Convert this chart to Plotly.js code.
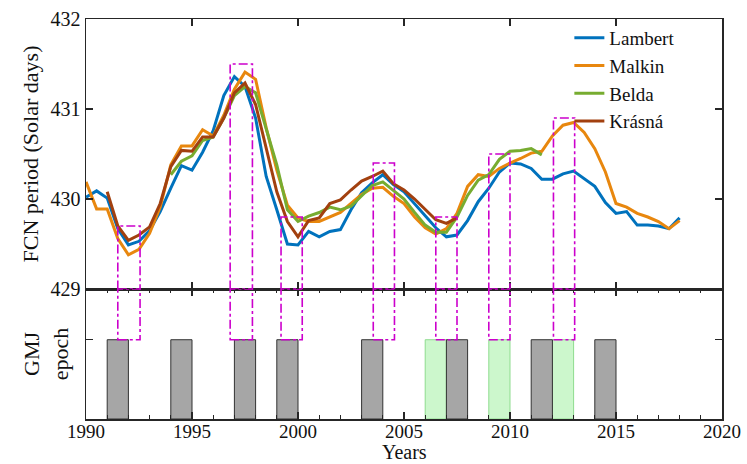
<!DOCTYPE html>
<html>
<head>
<meta charset="utf-8">
<script src="https://cdn.plot.ly/plotly-3.0.1.min.js"></script>
<style>html,body{margin:0;padding:0;background:#fff;}#chart{width:747px;height:464px;}</style>
</head>
<body>
<div id="chart"></div>
<script>
// ---- data ----
const lambertYears = [];
for (let i = 0; i <= 56; i++) lambertYears.push(1990 + i * 0.5);
const lambert = [430.02,430.09,430.01,429.67,429.49,429.53,429.65,429.86,430.12,430.37,
  430.32,430.52,430.76,431.15,431.36,431.25,430.90,430.25,429.88,429.50,
  429.49,429.64,429.58,429.64,429.66,429.88,430.07,430.18,430.27,430.16,
  430.08,429.95,429.82,429.68,429.58,429.60,429.76,429.97,430.12,430.30,
  430.40,430.39,430.34,430.22,430.22,430.28,430.31,430.23,430.14,429.96,
  429.84,429.86,429.71,429.71,429.70,429.67,429.79];
const malkinYears = lambertYears.slice();
const malkin = [430.19,429.89,429.89,429.56,429.38,429.44,429.62,429.91,430.38,430.59,
  430.59,430.77,430.70,430.93,431.22,431.41,431.33,430.79,430.32,429.93,
  429.79,429.75,429.75,429.80,429.85,429.95,430.05,430.12,430.13,430.03,
  429.95,429.80,429.68,429.61,429.67,429.84,430.14,430.27,430.25,430.34,
  430.40,430.45,430.51,430.53,430.70,430.82,430.85,430.74,430.56,430.30,
  429.95,429.91,429.84,429.80,429.75,429.67,429.76];
const beldaYears = [];
for (let i = 0; i <= 35; i++) beldaYears.push(1994 + i * 0.5);
const belda = [430.27,430.42,430.48,430.65,430.69,430.90,431.15,431.25,431.18,430.78,
  430.38,429.88,429.75,429.81,429.85,429.91,429.88,429.92,430.04,430.15,
  430.19,430.10,430.00,429.85,429.71,429.63,429.63,429.80,430.04,430.21,
  430.27,430.44,430.53,430.54,430.56,430.49];
const krasnaYears = [];
for (let i = 0; i <= 33; i++) krasnaYears.push(1991 + i * 0.5);
const krasna = [430.08,429.70,429.54,429.60,429.69,429.95,430.36,430.54,430.53,430.69,
  430.69,430.90,431.18,431.29,431.05,430.55,430.08,429.75,429.58,429.76,
  429.79,429.95,429.99,430.10,430.20,430.25,430.31,430.17,430.10,430.00,
  429.89,429.77,429.73,429.79];

// GMJ epochs (start year, 1-year long)
const grayStarts = [1991, 1994, 1997, 1999, 2003, 2007, 2011, 2014];
const greenStarts = [2006, 2009, 2012];
const epochWidth = 1;
const epochHeight = 1;

// dash-dot boxes: [x0, x1, topValue]
const boxX0 = [1991.5, 1996.8, 1999.2, 2003.55, 2006.5, 2009.0, 2012.05];
const boxX1 = [1992.55, 1997.85, 2000.2, 2004.55, 2007.5, 2010.0, 2013.05];
const boxTop = [429.7, 431.5, 429.8, 430.4, 429.8, 430.5, 430.9];

const xTickVals = [1990, 1995, 2000, 2005, 2010, 2015, 2020];
const yTickVals = [429, 430, 431, 432];

// ---- traces ----
const serif = "'Liberation Serif', 'Times New Roman', serif";
const traces = [];
function line(name, x, y, color) {
  traces.push({type:'scatter', mode:'lines', name:name, x:x, y:y, xaxis:'x', yaxis:'y',
    line:{color:color, width:3}});
}
line('Lambert', lambertYears, lambert, '#0072BD');
line('Malkin', malkinYears, malkin, '#E8870E');
line('Belda', beldaYears, belda, '#77AC30');
line('Krásná', krasnaYears, krasna, '#A2400F');

traces.push({type:'bar', x:greenStarts.map(s => s + epochWidth/2), y:greenStarts.map(() => epochHeight),
  width:epochWidth, xaxis:'x2', yaxis:'y2', showlegend:false, hoverinfo:'skip',
  marker:{color:'#CCF7CC', line:{color:'#8FDC8F', width:1}}});
traces.push({type:'bar', x:grayStarts.map(s => s + epochWidth/2), y:grayStarts.map(() => epochHeight),
  width:epochWidth, xaxis:'x2', yaxis:'y2', showlegend:false, hoverinfo:'skip',
  marker:{color:'#A6A6A6', line:{color:'#333333', width:1}}});

// ---- shapes ----
const shapes = [];
const mag = {color:'#CC00CC', width:1.6, dash:'dashdot'};
const y2Top = 1.64;
for (let i = 0; i < boxX0.length; i++) {
  shapes.push({type:'rect', xref:'x', yref:'y', x0:boxX0[i], x1:boxX1[i], y0:429, y1:boxTop[i], line:mag});
  shapes.push({type:'rect', xref:'x2', yref:'y2', x0:boxX0[i], x1:boxX1[i], y0:epochHeight, y1:y2Top, line:mag});
}

const axisLine = {showline:true, linecolor:'#262626', linewidth:1.5, mirror:'ticks',
  ticks:'inside', ticklen:7, tickcolor:'#262626', tickwidth:1.2, zeroline:false, showgrid:false};

const layout = {
  width:747, height:464,
  margin:{l:86, r:25, t:19, b:45, pad:0},
  paper_bgcolor:'#fff', plot_bgcolor:'#fff',
  font:{family:serif, size:21, color:'#111'},
  barmode:'overlay', bargap:0,
  showlegend:true,
  legend:{x:0.76, y:1.0, xanchor:'left', yanchor:'top', bgcolor:'rgba(0,0,0,0)',
    font:{family:serif, size:19, color:'#111'}, tracegroupgap:0},
  xaxis:Object.assign({}, axisLine, {domain:[0,1], anchor:'y', range:[1990,2020], tickvals:xTickVals,
    showticklabels:false}),
  yaxis:Object.assign({}, axisLine, {domain:[0.325,1], anchor:'x', range:[429,432], tickvals:yTickVals,
    tickfont:{size:20}, title:{text:'FCN period (Solar days)', font:{size:22}, standoff:6}}),
  xaxis2:Object.assign({}, axisLine, {domain:[0,1], anchor:'y2', range:[1990,2020], tickvals:xTickVals,
    tickfont:{size:19}, ticklabelstandoff:-5,
    minor:{dtick:1, tick0:1990, ticks:'inside', ticklen:4, tickcolor:'#262626', tickwidth:1}}),
  yaxis2:Object.assign({}, axisLine, {domain:[0,0.325], anchor:'x2', range:[0,y2Top], tickvals:[1],
    showticklabels:false, title:{text:'GMJ<br>epoch', font:{size:22}, standoff:10}}),
  annotations:[{text:'Years', xref:'paper', yref:'paper', x:0.5, y:0, yshift:-45, xanchor:'center', yanchor:'bottom',
    showarrow:false, borderpad:0, font:{family:serif, size:20, color:'#111'}}],
  shapes:shapes
};

Plotly.newPlot('chart', traces, layout, {displayModeBar:false, staticPlot:true});
</script>
</body>
</html>
